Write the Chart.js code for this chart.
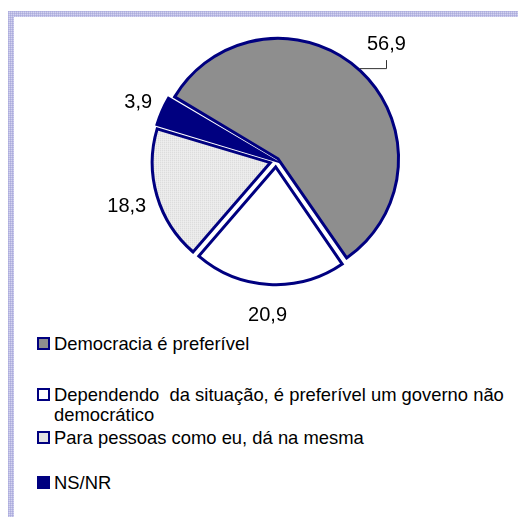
<!DOCTYPE html>
<html>
<head>
<meta charset="utf-8">
<script src="https://cdn.jsdelivr.net/npm/chart.js@4.4.1/dist/chart.umd.min.js"></script>
<style>
  html, body { margin: 0; padding: 0; background: #fff; }
  #page {
    position: relative; width: 518px; height: 517px; overflow: hidden;
    font-family: Arial, "Liberation Sans", sans-serif; color: #000;
  }
  .band {
    position: absolute;
    background-color: #d4d4f0;
    background-image:
      linear-gradient(90deg, rgba(150,150,210,.4) 1px, transparent 1px),
      linear-gradient(rgba(150,150,210,.4) 1px, transparent 1px);
    background-size: 2px 2px;
  }
  #bandTop { left: 8px; top: 11px; width: 510px; height: 6px; }
  #bandLeft { left: 8px; top: 11px; width: 6px; height: 506px; }
  #chartBox { position: absolute; left: 0; top: 0; width: 518px; height: 330px; }
  .item { position: absolute; left: 37px; font-size: 18.4px; line-height: 20px; }
  .item .box {
    position: absolute; left: 0; top: 3px; width: 9px; height: 9px;
    border: 2px solid #000080;
  }
  .item .txt { margin-left: 17px; width: 466px; white-space: pre-wrap; }
</style>
</head>
<body>
<div id="page">
  <div class="band" id="bandTop"></div>
  <div class="band" id="bandLeft"></div>
  <div id="chartBox"><canvas id="pie"></canvas></div>
  <div id="legend"></div>
</div>
<script>
const labels = [
  "Democracia é preferível",
  "Dependendo  da situação, é preferível um governo não democrático",
  "Para pessoas como eu, dá na mesma",
  "NS/NR"
];
const shares = [56.9, 20.9, 18.3, 3.9];

// styles
const navy = "#000080";
const labelPad = [44, 36, 38, 33];
const explode = [3, 6, 6, 4];
const legendTop = [334, 385, 428, 473];

function dotted(base, dot) {
  const c = document.createElement("canvas");
  c.width = 2; c.height = 2;
  const g = c.getContext("2d");
  g.fillStyle = base; g.fillRect(0, 0, 2, 2);
  g.fillStyle = dot; g.fillRect(0, 0, 1, 1);
  return g.createPattern(c, "repeat");
}

const fills = ["#8e8e8e", "#ffffff", dotted("#f2f2f2", "#c8c8c8"), navy];
const boxFills = ["#8e8e8e", "#ffffff", "#e2e2e2", navy];

const valueLabels = {
  id: "valueLabels",
  afterDatasetsDraw(chart) {
    const ctx = chart.ctx;
    const arcs = chart.getDatasetMeta(0).data;
    ctx.save();
    ctx.font = '20px Arial, "Liberation Sans", sans-serif';
    ctx.fillStyle = "#000";
    ctx.textAlign = "center";
    ctx.textBaseline = "alphabetic";
    arcs.forEach((arc, i) => {
      const mid = (arc.startAngle + arc.endAngle) / 2;
      const r = arc.outerRadius + labelPad[i];
      const x = arc.x + Math.cos(mid) * r;
      const y = arc.y + Math.sin(mid) * r;
      ctx.fillText(shares[i].toFixed(1).replace(".", ","), x, y + 7);
      if (i === 0) {
        // leader line back to the moved slice
        const cx = arc.x + Math.cos(mid) * explode[0];
        const cy = arc.y + Math.sin(mid) * explode[0];
        const R = arc.outerRadius + explode[0] + 1.5;
        const ly = y + 25;
        const sx = cx + Math.sqrt(Math.max(R * R - (ly - cy) * (ly - cy), 0));
        ctx.strokeStyle = "#333";
        ctx.lineWidth = 1;
        ctx.beginPath();
        ctx.moveTo(sx, ly + 0.5);
        ctx.lineTo(Math.round(x) + 0.5, ly + 0.5);
        ctx.lineTo(Math.round(x) + 0.5, y + 17);
        ctx.stroke();
      }
    });
    ctx.restore();
  }
};

new Chart(document.getElementById("pie"), {
  type: "pie",
  data: {
    labels: labels,
    datasets: [{
      data: shares,
      backgroundColor: fills,
      borderColor: navy,
      borderWidth: 3,
      borderJoinStyle: "miter",
      offset: explode.map((d) => d * 4)
    }]
  },
  options: {
    responsive: true,
    maintainAspectRatio: false,
    animation: false,
    rotation: -59.3,
    radius: 117.5,
    layout: { padding: { left: 60, right: 26, top: 20, bottom: 28 } },
    plugins: {
      legend: { display: false },
      tooltip: { enabled: false }
    }
  },
  plugins: [valueLabels]
});

const legend = document.getElementById("legend");
labels.forEach((text, i) => {
  const item = document.createElement("div");
  item.className = "item";
  item.style.top = legendTop[i] + "px";
  const box = document.createElement("div");
  box.className = "box";
  box.style.background = boxFills[i];
  const txt = document.createElement("div");
  txt.className = "txt";
  txt.textContent = text;
  item.appendChild(box);
  item.appendChild(txt);
  legend.appendChild(item);
});
</script>
</body>
</html>
